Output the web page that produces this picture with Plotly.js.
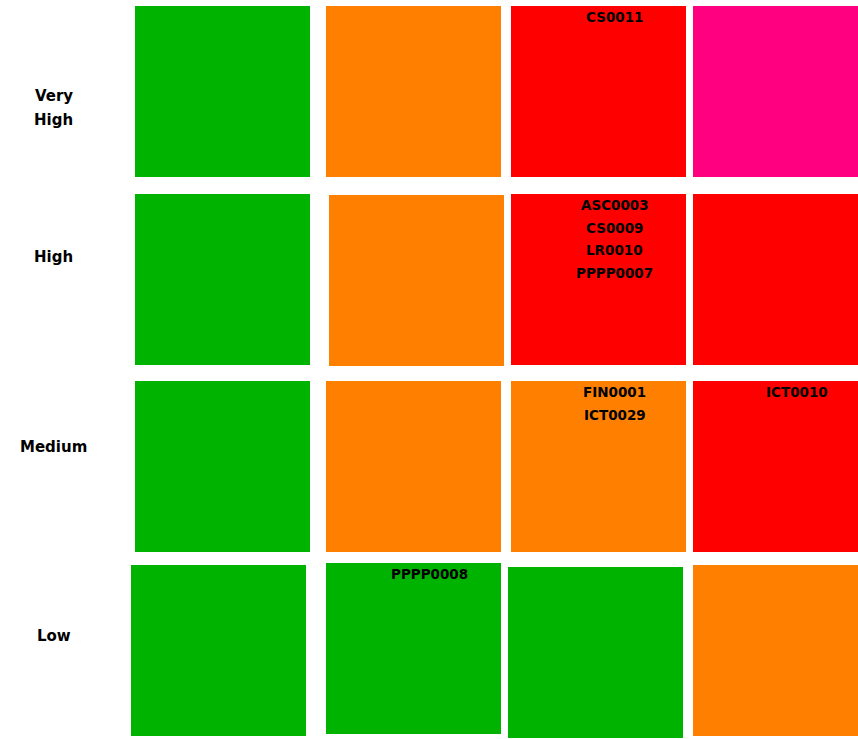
<!DOCTYPE html>
<html><head><meta charset="utf-8">
<script src="https://cdn.plot.ly/plotly-3.0.1.min.js"></script>
<style>html,body{margin:0;padding:0;background:#fff}#chart{width:858px;height:739px}</style>
</head><body><div id="chart"></div>
<script>
// ---- data ----
const likelihoodLevels = ["Very High", "High", "Medium", "Low"];
const impactLevels = [1, 2, 3, 4];
const cellRatings = [
  ["Low", "Medium", "High", "Extreme"],
  ["Low", "Medium", "High", "High"],
  ["Low", "Medium", "Medium", "High"],
  ["Low", "Low", "Low", "Medium"]
];
const riskCodes = ["CS0011", "ASC0003", "CS0009", "LR0010", "PPPP0007", "FIN0001", "ICT0029", "ICT0010", "PPPP0008"];
const riskLikelihood = ["Very High", "High", "High", "High", "High", "Medium", "Medium", "Medium", "Low"];
const riskImpact = [3, 3, 3, 3, 3, 3, 3, 4, 2];

// ---- styles / geometry ----
const ratingColors = {Low: "#00b300", Medium: "#ff8000", High: "#ff0000", Extreme: "#ff0080"};
const W = 858, H = 739;
const X0 = 224.9, XS = 185.9, Y0 = 92.5, YS = 186.25;
const CW = 175, CH = 171;
const jitter = [
  [[-2.4, -1], [2.7, -1], [1.8, -1], [-2.1, -1]],
  [[-2.4, 0.75], [5.7, 1.75], [1.8, 0.75], [-2.1, 0.75]],
  [[-2.4, 1.5], [2.7, 1.5], [1.8, 1.5], [-2.1, 1.5]],
  [[-6.4, -0.75], [2.7, -2.75], [-1.2, 1.25], [-2.1, -0.75]]
];
const labelDy = [15, -22, -18.5, -15];
const labelLineGap = 24;
const textDx = 16, textTop = 11, textGap = 22.6;
const fontFamily = "DejaVu Sans, Verdana, sans-serif";

const traces = [];
const cellCenter = {};
likelihoodLevels.forEach((lk, r) => {
  impactLevels.forEach((imp, c) => {
    const cx = c + jitter[r][c][0] / XS;
    const cy = r + jitter[r][c][1] / YS;
    const hw = CW / 2 / XS, hh = CH / 2 / YS;
    cellCenter[lk + "|" + imp] = {cx, cy, hh};
    traces.push({
      type: "scatter", mode: "lines",
      x: [cx - hw, cx + hw, cx + hw, cx - hw, cx - hw],
      y: [cy - hh, cy - hh, cy + hh, cy + hh, cy - hh],
      fill: "toself", fillcolor: ratingColors[cellRatings[r][c]],
      line: {width: 0, color: ratingColors[cellRatings[r][c]]},
      hoverinfo: "skip", showlegend: false
    });
  });
});

const annotations = [];
const cellCount = {};
riskCodes.forEach((code, i) => {
  const key = riskLikelihood[i] + "|" + riskImpact[i];
  const k = cellCount[key] || 0;
  cellCount[key] = k + 1;
  const cc = cellCenter[key];
  annotations.push({
    x: cc.cx + textDx / XS,
    y: cc.cy - cc.hh + (textTop + k * textGap) / YS,
    xref: "x", yref: "y", text: code, showarrow: false,
    xanchor: "center", yanchor: "middle",
    font: {family: fontFamily, size: 13.5, color: "#000", weight: "bold"}
  });
});

likelihoodLevels.forEach((lk, r) => {
  const lines = lk.split(" ");
  lines.forEach((ln, j) => {
    const off = labelDy[r] + (j - (lines.length - 1) / 2) * labelLineGap;
    annotations.push({
      x: (53.5 - X0) / XS, y: r + off / YS,
      xref: "x", yref: "y", text: ln, showarrow: false,
      xanchor: "center", yanchor: "middle",
      font: {family: fontFamily, size: 15, color: "#000", weight: "bold"}
    });
  });
});

const layout = {
  width: W, height: H,
  margin: {l: 0, r: 0, t: 0, b: 0, pad: 0},
  paper_bgcolor: "#fff", plot_bgcolor: "#fff",
  showlegend: false,
  xaxis: {range: [-X0 / XS, (W - X0) / XS], visible: false, fixedrange: true},
  yaxis: {range: [(H - Y0) / YS, -Y0 / YS], visible: false, fixedrange: true},
  annotations: annotations
};

Plotly.newPlot("chart", traces, layout, {displayModeBar: false, staticPlot: true});
</script>
</body></html>
